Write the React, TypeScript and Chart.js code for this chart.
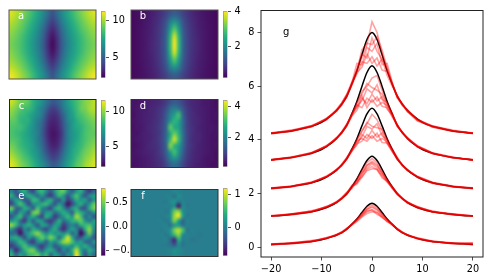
import React, { useEffect, useRef } from "react";
import { Chart, registerables } from "chart.js";

Chart.register(...registerables);

const viridis = ["#440154", "#482475", "#414487", "#355f8d", "#2a788e", "#21918c", "#22a884", "#44bf70", "#7ad151", "#bddf26", "#fde725"];
const FONT = { family: "'DejaVu Sans'", size: 9.7 };

const gridA = [
  [10.8,10.4,10.0,9.5,9.0,8.4,7.8,7.1,6.3,5.4,4.6,5.4,6.3,7.1,7.8,8.4,9.0,9.5,10.0,10.4,10.8],
  [10.3,10.0,9.6,9.1,8.6,8.0,7.4,6.7,5.8,4.7,4.0,4.7,5.8,6.7,7.4,8.0,8.6,9.1,9.6,10.0,10.3],
  [9.9,9.6,9.2,8.8,8.2,7.7,7.0,6.2,5.2,4.0,3.3,4.0,5.2,6.2,7.0,7.7,8.2,8.8,9.2,9.6,9.9],
  [9.6,9.3,8.9,8.4,7.9,7.3,6.7,5.9,4.8,3.5,2.8,3.5,4.8,5.9,6.7,7.3,7.9,8.4,8.9,9.3,9.6],
  [9.4,9.1,8.8,8.3,7.8,7.2,6.5,5.7,4.6,3.3,2.5,3.3,4.6,5.7,6.5,7.2,7.8,8.3,8.8,9.1,9.4],
  [9.6,9.3,8.9,8.4,7.9,7.3,6.7,5.9,4.8,3.5,2.8,3.5,4.8,5.9,6.7,7.3,7.9,8.4,8.9,9.3,9.6],
  [9.9,9.6,9.2,8.8,8.2,7.7,7.0,6.2,5.2,4.0,3.3,4.0,5.2,6.2,7.0,7.7,8.2,8.8,9.2,9.6,9.9],
  [10.4,10.1,9.7,9.2,8.7,8.1,7.4,6.7,5.8,4.7,4.0,4.7,5.8,6.7,7.4,8.1,8.7,9.2,9.7,10.1,10.4],
  [11.1,10.7,10.2,9.7,9.2,8.6,7.9,7.2,6.4,5.5,4.7,5.5,6.4,7.2,7.9,8.6,9.2,9.7,10.2,10.7,11.1],
];
const gridB = [
  [.3,.34,.38,.42,.48,.55,.65,.8,.95,1.2,1.3,1.2,.95,.8,.65,.55,.48,.42,.38,.34,.3],
  [.3,.34,.38,.44,.5,.6,.72,.9,1.2,1.8,2.1,1.8,1.2,.9,.72,.6,.5,.44,.38,.34,.3],
  [.3,.35,.4,.45,.52,.62,.76,.95,1.35,2.3,3.0,2.3,1.35,.95,.76,.62,.52,.45,.4,.35,.3],
  [.3,.35,.4,.46,.54,.64,.78,1.0,1.45,2.7,3.8,2.7,1.45,1.0,.78,.64,.54,.46,.4,.35,.3],
  [.3,.35,.4,.45,.55,.65,.8,1.0,1.5,2.8,4.0,2.8,1.5,1.0,.8,.65,.55,.45,.4,.35,.3],
  [.3,.35,.4,.46,.54,.64,.78,1.0,1.45,2.7,3.8,2.7,1.45,1.0,.78,.64,.54,.46,.4,.35,.3],
  [.3,.35,.4,.45,.52,.62,.76,.95,1.35,2.3,3.0,2.3,1.35,.95,.76,.62,.52,.45,.4,.35,.3],
  [.3,.34,.38,.44,.5,.6,.72,.9,1.2,1.8,2.1,1.8,1.2,.9,.72,.6,.5,.44,.38,.34,.3],
  [.3,.34,.38,.42,.48,.55,.65,.8,.95,1.2,1.3,1.2,.95,.8,.65,.55,.48,.42,.38,.34,.3],
];
const gridC = [
  [10.9,10.3,9.6,9.5,9.2,8.3,7.6,7.0,6.2,5.4,4.6,4.9,5.6,6.6,7.5,8.2,8.8,9.4,9.9,10.2,10.7],
  [10.2,9.7,9.2,8.7,8.6,8.1,7.2,6.4,5.6,4.4,3.7,4.1,5.1,6.3,7.0,8.0,8.7,9.5,9.7,10.4,10.6],
  [9.8,9.3,8.6,8.4,8.0,7.4,6.8,6.3,5.0,3.7,3.2,3.4,4.4,5.7,6.9,7.6,8.5,8.9,9.4,9.8,10.2],
  [9.3,9.1,8.4,8.1,8.1,7.2,6.4,5.7,4.5,3.3,2.9,3.1,3.9,5.4,6.6,7.3,8.1,8.6,9.0,9.4,9.7],
  [9.0,8.8,8.7,8.3,7.6,7.0,6.2,5.5,4.2,3.0,2.7,2.9,3.7,5.2,6.3,7.4,7.9,8.2,8.8,9.1,9.5],
  [8.9,8.6,8.3,7.9,7.5,6.9,6.4,5.4,4.0,2.9,2.5,2.7,3.4,5.1,6.5,7.1,7.6,8.3,8.9,9.2,9.3],
  [9.1,8.9,8.5,8.0,7.7,7.1,6.3,5.5,4.3,3.1,2.6,2.8,3.6,5.2,6.4,7.2,7.8,8.4,8.9,9.3,9.6],
  [9.6,9.2,8.6,8.2,7.9,7.4,6.6,5.8,4.6,3.5,2.9,3.0,4.0,5.5,6.7,7.5,8.1,8.5,9.2,9.6,10.0],
  [10.1,9.6,9.1,8.6,8.1,7.5,7.0,6.2,5.0,3.9,3.4,3.6,4.6,6.0,6.9,7.9,8.3,9.0,9.6,9.9,10.4],
  [10.7,10.2,9.6,9.0,8.6,8.0,7.3,6.5,5.7,4.7,3.9,4.2,5.3,6.4,7.3,8.0,8.8,9.3,9.9,10.3,10.8],
  [11.2,10.7,10.0,9.5,9.0,8.4,7.7,7.0,6.3,5.4,4.7,5.0,5.8,6.8,7.7,8.4,9.2,9.6,10.3,10.7,11.1],
];
const gridD = [
  [.3,.3,.35,.4,.45,.5,.55,.65,.85,1.15,1.3,1.2,.9,.7,.55,.5,.45,.35,.35,.3,.25],
  [.3,.35,.4,.4,.5,.55,.65,.8,1.1,1.7,1.9,1.7,1.2,.8,.6,.5,.45,.4,.35,.3,.25],
  [.25,.35,.4,.45,.5,.55,.7,.85,1.3,2.0,2.5,3.1,1.5,.85,.65,.55,.45,.4,.35,.3,.3],
  [.3,.35,.4,.45,.5,.6,.7,.9,1.4,2.3,2.9,2.6,1.6,.9,.65,.55,.5,.4,.35,.3,.25],
  [.25,.35,.35,.45,.55,.6,.75,.95,1.5,3.3,2.7,2.5,1.6,.9,.7,.55,.45,.4,.35,.35,.3],
  [.3,.3,.4,.45,.5,.6,.7,.95,1.5,2.7,3.4,2.8,1.7,.95,.7,.55,.5,.4,.35,.3,.3],
  [.3,.35,.4,.45,.5,.6,.75,1.0,1.6,3.0,4.1,3.0,1.7,.95,.65,.55,.5,.4,.35,.3,.25],
  [.25,.3,.35,.45,.55,.6,.7,.95,1.5,3.6,2.8,2.4,1.6,.9,.7,.55,.45,.4,.35,.3,.3],
  [.3,.35,.4,.45,.5,.55,.7,.9,1.4,2.4,3.1,2.3,1.4,.85,.65,.5,.45,.4,.35,.3,.25],
  [.3,.3,.35,.4,.45,.55,.65,.8,1.2,1.9,2.3,1.9,1.2,.8,.6,.5,.45,.35,.3,.3,.25],
  [.25,.3,.35,.4,.45,.5,.6,.7,.95,1.4,1.6,1.4,1.0,.7,.55,.45,.4,.35,.3,.25,.25],
];
const gridE = [
  [.0,-.25,.12,.26,-.14,-.32,.18,.32,.05,-.25,.12,.38,.45,.05,-.2,.12,.26,-.14,-.38,-.14],
  [.26,-.14,-.38,.05,.26,.12,-.14,.12,-.2,-.38,-.08,.32,.12,-.25,.12,.38,.05,-.25,.05,.18],
  [-.14,.18,.12,-.25,-.14,.32,.26,-.2,.12,.26,-.14,-.25,.12,-.38,-.14,.26,.12,.18,-.2,.12],
  [-.32,.05,.38,.12,-.32,.05,.12,.26,.32,.05,-.25,.12,-.14,-.55,-.32,.05,.26,-.08,.12,.45],
  [.45,-.14,-.14,.26,.12,-.2,.38,.05,-.14,-.32,.18,.32,.05,-.25,.12,.26,-.2,-.25,.26,.5],
  [.05,-.25,.18,.05,-.25,.45,.5,-.14,.12,.18,-.14,.05,.26,.12,-.2,.38,.26,.05,-.14,.12],
  [-.25,.12,.32,-.2,.05,.26,-.08,-.32,.26,.05,-.38,-.14,.12,.32,.12,.6,.38,-.14,.05,-.25],
  [.12,.26,-.14,-.38,.12,-.2,.18,.12,-.25,-.38,-.14,.26,-.14,.05,.26,.32,.45,.12,-.08,.18],
  [.55,.32,-.08,.12,.26,.05,-.25,.18,.12,-.2,.18,.12,-.38,-.14,.05,-.14,.26,.32,.38,.12],
  [.12,-.25,-.45,.05,-.14,.26,.12,-.14,-.32,.05,.26,-.14,-.45,-.08,.18,.0,-.38,.26,.55,.05],
  [-.14,-.14,-.55,-.08,.18,.38,.55,.32,.05,.26,.12,.18,.05,.26,-.14,.05,-.6,-.14,.45,-.08],
  [.18,.26,.05,-.25,.12,-.08,.26,.45,.26,.5,.32,-.14,.32,.7,.26,-.2,-.25,.12,.05,-.25],
  [-.14,.05,.32,.18,-.25,-.38,.05,.12,-.2,.18,.05,.26,.55,.6,.38,.05,.18,-.14,-.2,.12],
  [-.38,-.2,.12,.38,.18,.05,-.2,-.38,-.08,.12,-.25,-.08,.12,.18,.05,.32,.12,.26,.05,-.14],
  [.05,-.45,-.14,.26,.45,.5,.12,-.2,.18,.26,.05,-.32,.05,-.14,.26,.65,.18,-.08,.26,.05],
  [.26,-.14,.18,.05,.32,.38,.45,.18,.32,-.14,.18,.05,-.2,.12,.12,.78,.26,-.25,.12,-.14],
];
const gridF = [
  [.0,.0,.01,.0,.0,.01,.0,.01,.02,.0,.08,.05,.02,.0,.01,.0,.0,.01,.0,.0,.0],
  [.0,.01,.0,.0,.01,.0,.02,.0,.03,.05,-.1,.15,.03,.0,.02,.0,.01,.0,.0,.01,.0],
  [.01,.0,.0,.01,.0,.0,.0,.02,-.03,.1,.2,-.05,.05,.0,.0,.01,.0,.0,.01,.0,.0],
  [.0,.0,.01,.0,.0,.01,.02,.0,.03,.02,.1,-.7,.1,-.03,.02,.0,.0,.01,.0,.0,.01],
  [.0,.01,.0,.0,.01,.0,.0,.03,-.05,.1,.7,.8,.15,.03,.0,.0,.01,.0,.0,.01,.0],
  [.01,.0,.0,.01,.0,.02,.0,-.02,.05,.15,.9,1.15,.3,-.05,.02,.0,.0,.01,.0,.0,.0],
  [.0,.0,.01,.0,.0,.0,.03,.02,-.05,.1,.8,.3,-.2,.05,.0,.01,.0,.0,.01,.0,.01],
  [.0,.01,.0,.0,.01,.0,.0,.03,.05,-.1,.2,.25,-.1,.03,.0,.0,.01,.0,.0,.0,.0],
  [.01,.0,.0,.01,.0,.02,.0,-.02,.05,.2,.8,1.0,.6,-.05,.03,.0,.0,.01,.0,.01,.0],
  [.0,.0,.01,.0,.0,.0,.02,.03,-.05,.1,.5,.8,.1,.05,.0,.01,-.03,.0,.01,.0,.0],
  [.0,.01,.0,.0,.01,.0,.0,.02,.05,-.2,-.65,.4,.0,.03,-.03,-.04,.0,.0,.0,.01,.0],
  [.01,.0,.0,.01,.0,.01,.02,.0,-.03,-.1,-.35,.1,-.1,.02,.0,.0,.0,.01,.0,.0,.0],
  [.0,.0,.01,.0,.0,.0,.0,.02,.03,.05,.15,.1,.05,.0,.01,.0,.0,.0,.01,.0,.01],
  [.0,.01,.0,.0,.01,.0,.01,.0,.02,.04,.15,.1,.03,.01,.0,.0,.01,.0,.0,.0,.0],
];

const blackX = [-20,-18,-16,-14,-12,-10,-8,-7,-6,-5,-4,-3,-2,-1,0,1,2,3,4,5,6,7,8,10,12,14,16,18,20];
const blackA = [4.24,4.28,4.33,4.41,4.50,4.65,4.92,5.10,5.33,5.63,6.08,6.57,7.17,7.74,8.00,7.74,7.17,6.57,6.08,5.63,5.33,5.10,4.92,4.65,4.50,4.41,4.33,4.28,4.24];
const blackB = [3.25,3.29,3.34,3.41,3.50,3.64,3.88,4.06,4.27,4.55,4.97,5.43,5.99,6.51,6.76,6.51,5.99,5.43,4.97,4.55,4.27,4.06,3.88,3.64,3.50,3.41,3.34,3.29,3.25];
const blackC = [2.19,2.22,2.26,2.32,2.40,2.52,2.73,2.88,3.06,3.30,3.65,4.04,4.52,4.97,5.18,4.97,4.52,4.04,3.65,3.30,3.06,2.88,2.73,2.52,2.40,2.32,2.26,2.22,2.19];
const blackD = [1.16,1.18,1.22,1.26,1.32,1.41,1.56,1.67,1.81,1.99,2.25,2.54,2.90,3.23,3.39,3.23,2.90,2.54,2.25,1.99,1.81,1.67,1.56,1.41,1.32,1.26,1.22,1.18,1.16];
const blackE = [.10,.12,.14,.17,.21,.27,.38,.45,.54,.67,.85,1.05,1.29,1.52,1.63,1.52,1.29,1.05,.85,.67,.54,.45,.38,.27,.21,.17,.14,.12,.10];

const redX = [-20,-16,-12,-9,-7,-6,-5,-4,-3,-2,-1,0,1,2,3,4,5,6,7,9,12,16,20];
const redA = [
  [4.25,4.35,4.52,4.78,5.12,5.36,5.70,6.15,6.60,7.05,7.55,8.40,8.00,7.20,6.65,6.05,5.60,5.32,5.08,4.72,4.48,4.34,4.24],
  [4.22,4.32,4.49,4.80,5.08,5.30,5.60,6.05,6.62,7.20,7.05,7.80,7.30,7.00,6.60,6.10,5.65,5.30,5.12,4.75,4.52,4.32,4.25],
  [4.26,4.31,4.51,4.74,5.14,5.38,5.68,6.10,6.85,6.80,7.45,7.30,7.60,6.80,6.85,6.15,5.58,5.36,5.06,4.70,4.50,4.35,4.23],
  [4.23,4.34,4.48,4.79,5.07,5.33,5.58,6.12,6.45,6.90,6.85,7.10,6.75,7.00,6.40,6.00,5.66,5.34,5.10,4.78,4.47,4.31,4.26],
  [4.25,4.33,4.53,4.76,5.11,5.29,5.64,6.02,6.50,6.70,7.20,6.85,7.05,6.60,6.55,6.08,5.62,5.28,5.13,4.74,4.51,4.36,4.24],
  [4.24,4.36,4.50,4.81,5.09,5.35,5.66,6.08,6.58,7.35,7.60,7.55,7.85,7.35,6.70,6.12,5.55,5.31,5.05,4.76,4.49,4.33,4.25],
];
const redB = [
  [3.26,3.35,3.52,3.75,4.08,4.30,4.58,4.95,5.38,5.80,6.00,6.30,6.40,5.85,5.30,4.90,4.52,4.29,4.05,3.74,3.49,3.33,3.25],
  [3.23,3.33,3.49,3.78,4.04,4.25,4.52,4.92,5.25,5.45,5.90,5.75,6.05,5.50,5.40,4.98,4.56,4.26,4.08,3.77,3.52,3.35,3.24],
  [3.25,3.36,3.51,3.74,4.07,4.28,4.50,4.88,5.10,5.55,5.35,5.70,5.45,5.60,5.15,4.92,4.50,4.30,4.04,3.75,3.50,3.32,3.26],
  [3.24,3.32,3.48,3.77,4.05,4.26,4.56,4.90,5.30,5.20,5.55,5.40,5.60,5.25,5.20,4.86,4.57,4.24,4.07,3.73,3.48,3.34,3.25],
  [3.26,3.34,3.53,3.76,4.09,4.24,4.54,4.98,5.20,5.65,5.20,5.50,5.25,5.40,5.28,4.95,4.53,4.28,4.03,3.78,3.51,3.36,3.23],
  [3.25,3.35,3.50,3.79,4.03,4.29,4.59,4.93,5.35,5.70,6.10,5.95,5.85,5.70,5.35,5.00,4.49,4.27,4.09,3.76,3.49,3.33,3.26],
];
const redC = [
  [2.20,2.27,2.42,2.63,2.90,3.08,3.33,3.63,3.98,4.35,4.60,4.95,4.75,4.35,3.95,3.60,3.28,3.05,2.87,2.60,2.39,2.25,2.19],
  [2.17,2.25,2.39,2.65,2.86,3.05,3.28,3.60,3.90,4.10,4.50,4.40,4.60,4.15,4.00,3.66,3.33,3.07,2.90,2.63,2.41,2.27,2.20],
  [2.19,2.28,2.41,2.61,2.89,3.04,3.31,3.56,3.80,4.20,4.05,4.35,4.10,4.25,3.85,3.62,3.26,3.08,2.86,2.62,2.40,2.24,2.18],
  [2.18,2.24,2.38,2.64,2.87,3.07,3.26,3.62,3.85,3.95,4.20,4.05,4.25,3.90,3.88,3.55,3.30,3.04,2.89,2.59,2.38,2.26,2.21],
  [2.21,2.26,2.43,2.60,2.91,3.03,3.29,3.58,3.95,4.05,3.95,4.15,3.95,4.05,3.92,3.58,3.27,3.06,2.85,2.64,2.42,2.28,2.18],
  [2.19,2.27,2.40,2.62,2.85,3.09,3.34,3.64,4.00,4.30,4.65,4.50,4.45,4.40,4.02,3.64,3.35,3.03,2.88,2.61,2.37,2.25,2.20],
];
const redD = [
  [1.17,1.23,1.34,1.50,1.69,1.83,2.02,2.24,2.50,2.85,3.15,3.30,3.15,2.82,2.48,2.22,1.98,1.80,1.66,1.47,1.31,1.22,1.16],
  [1.15,1.21,1.31,1.52,1.65,1.80,1.97,2.22,2.42,2.70,3.05,3.20,3.08,2.75,2.50,2.26,2.01,1.82,1.68,1.49,1.33,1.23,1.17],
  [1.16,1.24,1.33,1.47,1.68,1.79,2.00,2.30,2.38,2.75,2.95,3.10,2.95,2.70,2.45,2.20,1.96,1.83,1.65,1.50,1.32,1.21,1.15],
  [1.18,1.20,1.30,1.51,1.66,1.84,2.04,2.18,2.45,2.62,2.90,3.00,2.88,2.65,2.42,2.24,2.00,1.79,1.69,1.46,1.30,1.24,1.16],
  [1.16,1.22,1.35,1.48,1.70,1.82,1.95,2.26,2.35,2.60,2.85,2.92,2.90,2.58,2.46,2.18,1.97,1.81,1.64,1.48,1.34,1.20,1.17],
  [1.15,1.23,1.32,1.49,1.67,1.85,2.03,2.28,2.52,2.80,3.05,3.15,3.02,2.78,2.52,2.25,2.02,1.84,1.67,1.51,1.31,1.22,1.15],
];
const redE = [
  [.11,.15,.23,.34,.47,.56,.69,.84,1.02,1.26,1.48,1.58,1.47,1.24,1.01,.83,.66,.53,.44,.32,.20,.14,.11],
  [.09,.13,.20,.36,.44,.53,.66,.86,1.00,1.20,1.40,1.48,1.38,1.18,1.04,.87,.68,.55,.46,.33,.22,.15,.12],
  [.10,.16,.22,.32,.46,.52,.68,.83,.98,1.15,1.32,1.40,1.30,1.15,.96,.85,.65,.56,.43,.34,.21,.13,.09],
  [.12,.14,.19,.35,.43,.55,.70,.82,.95,1.12,1.25,1.32,1.28,1.10,.98,.82,.69,.52,.47,.31,.19,.16,.15],
  [.08,.15,.24,.31,.48,.54,.65,.87,1.03,1.18,1.35,1.38,1.22,1.12,.94,.86,.67,.54,.45,.35,.23,.12,.16],
  [.10,.12,.21,.34,.45,.57,.71,.85,1.04,1.23,1.42,1.52,1.42,1.22,1.03,.84,.70,.57,.44,.30,.20,.15,.10],
];

const lineXTicks = [-20, -10, 0, 10, 20];
const lineYTicks = [0, 2, 4, 6, 8];

const panels = [
  { name: "a", grid: gridA, vmin: 2.3, vmax: 11.3, ticks: [5, 10], dec: 0, L: 9, T: 10, W: 87, H: 69, cL: 101, cT: 10, cH: 69, frame: "#555" },
  { name: "b", grid: gridB, vmin: 0.2, vmax: 4.03, ticks: [2, 4], dec: 0, L: 131, T: 10, W: 87, H: 69, cL: 223, cT: 10, cH: 69, frame: "#555" },
  { name: "c", grid: gridC, vmin: 2.0, vmax: 11.7, ticks: [5, 10], dec: 0, L: 9.5, T: 99.5, W: 86.5, H: 68, cL: 101, cT: 99, cH: 69, frame: "#222" },
  { name: "d", grid: gridD, vmin: 0.06, vmax: 4.42, ticks: [2, 4], dec: 0, L: 131, T: 99.5, W: 87, H: 68, cL: 223, cT: 99, cH: 69, frame: "#333" },
  { name: "e", grid: gridE, vmin: -0.615, vmax: 0.79, ticks: [-0.5, 0, 0.5], dec: 1, L: 9.5, T: 189.5, W: 86.5, H: 67, cL: 101, cT: 187.5, cH: 69.5, frame: "#222" },
  { name: "f", grid: gridF, vmin: -0.87, vmax: 1.2, ticks: [0, 1], dec: 0, L: 131, T: 189.5, W: 87, H: 67, cL: 223, cT: 187.5, cH: 69.5, frame: "#333" },
];

const hex = (h: string) => [1, 3, 5].map((i) => parseInt(h.slice(i, i + 2), 16));
const cmap = (t: number) => {
  const c = Math.min(1, Math.max(0, t)) * (viridis.length - 1);
  const i = Math.min(viridis.length - 2, Math.floor(c));
  const a = hex(viridis[i]);
  const b = hex(viridis[i + 1]);
  return a.map((v, k) => v + (b[k] - v) * (c - i));
};
const minus = (s: string) => s.replace("-", "\u2212");

function makeHeat(canvas: HTMLCanvasElement, p: any, pad: any) {
  const rows = p.grid.length;
  const cols = p.grid[0].length;
  const cells: any[] = [];
  p.grid.forEach((row: number[], r: number) => row.forEach((v, c) => cells.push({ x: c, y: r, v })));
  return new Chart(canvas, {
    type: "scatter",
    data: { datasets: [{ data: cells, pointRadius: 0 }] },
    options: {
      animation: false,
      responsive: false,
      devicePixelRatio: 1,
      layout: { padding: pad },
      plugins: { legend: { display: false }, tooltip: { enabled: false } },
      scales: {
        x: { type: "linear", display: false, min: 0, max: cols },
        y: { type: "linear", display: false, min: 0, max: rows, reverse: true },
      },
    },
    plugins: [
      {
        id: "heat",
        beforeDatasetsDraw(chart: any) {
          const off = document.createElement("canvas");
          off.width = cols;
          off.height = rows;
          const oc = off.getContext("2d")!;
          const img = oc.createImageData(cols, rows);
          chart.data.datasets[0].data.forEach((d: any) => {
            const rgb = cmap((d.v - p.vmin) / (p.vmax - p.vmin));
            const k = (d.y * cols + d.x) * 4;
            img.data[k] = rgb[0];
            img.data[k + 1] = rgb[1];
            img.data[k + 2] = rgb[2];
            img.data[k + 3] = 255;
          });
          oc.putImageData(img, 0, 0);
          const { x, y } = chart.scales;
          const c = chart.ctx;
          const x0 = x.getPixelForValue(0);
          const y0 = y.getPixelForValue(0);
          const x1 = x.getPixelForValue(cols);
          const y1 = y.getPixelForValue(rows);
          c.save();
          c.imageSmoothingEnabled = true;
          c.imageSmoothingQuality = "high";
          c.drawImage(off, x0, y0, x1 - x0, y1 - y0);
          c.strokeStyle = p.frame;
          c.lineWidth = 1;
          c.strokeRect(x0, y0, x1 - x0, y1 - y0);
          c.fillStyle = "#fff";
          c.font = "10px 'DejaVu Sans'";
          c.textAlign = "center";
          c.textBaseline = "middle";
          c.fillText(p.name, x.getPixelForValue(cols * 0.138), y.getPixelForValue(rows * 0.1));
          c.restore();
        },
      },
    ],
  } as any);
}

function makeBar(canvas: HTMLCanvasElement, p: any, pad: any, axisW: number) {
  return new Chart(canvas, {
    type: "bar",
    data: {
      labels: [""],
      datasets: [
        {
          data: [[p.vmin, p.vmax]],
          barPercentage: 1,
          categoryPercentage: 1,
          borderWidth: 0.8,
          borderColor: "#777",
          borderSkipped: false,
          backgroundColor: (ctx: any) => {
            const a = ctx.chart.chartArea;
            if (!a) return viridis[5];
            const g = ctx.chart.ctx.createLinearGradient(0, a.bottom, 0, a.top);
            viridis.forEach((col, i) => g.addColorStop(i / (viridis.length - 1), col));
            return g;
          },
        },
      ],
    },
    options: {
      animation: false,
      responsive: false,
      devicePixelRatio: 1,
      layout: { padding: pad },
      plugins: { legend: { display: false }, tooltip: { enabled: false } },
      scales: {
        x: { display: false },
        y: {
          position: "right",
          min: p.vmin,
          max: p.vmax,
          afterFit(s: any) { s.width = axisW; },
          afterBuildTicks(s: any) { s.ticks = p.ticks.map((v: number) => ({ value: v })); },
          border: { display: false },
          grid: { drawOnChartArea: false, tickLength: 3.5, tickColor: "#222", lineWidth: 0.8 },
          ticks: {
            autoSkip: false,
            minRotation: 0,
            maxRotation: 0,
            padding: 3.5,
            color: "#000",
            font: FONT,
            callback: (v: number) => minus(v.toFixed(p.dec)),
          },
        },
      },
    },
  } as any);
}

function makeLine(canvas: HTMLCanvasElement, pad: any, yW: number, xH: number) {
  const blacks = [blackA, blackB, blackC, blackD, blackE].map((ys) => ({
    data: ys.map((y, i) => ({ x: blackX[i], y })),
    borderColor: "#000",
    borderWidth: 1.5,
    pointRadius: 0,
    cubicInterpolationMode: "monotone",
    order: 2,
    showLine: true,
  }));
  const reds = [redA, redB, redC, redD, redE].flatMap((group) =>
    group.map((ys) => ({
      data: ys.map((y, i) => ({ x: redX[i], y })),
      borderColor: "rgba(255,0,0,0.36)",
      borderWidth: 1.6,
      pointRadius: 0,
      order: 1,
      showLine: true,
    }))
  );
  const tickCommon = { color: "#000", font: FONT, autoSkip: false, minRotation: 0, maxRotation: 0, padding: 3 };
  const gridCommon = { display: true, drawOnChartArea: false, tickLength: 3.5, tickColor: "#222", lineWidth: 0.8 };
  return new Chart(canvas, {
    type: "scatter",
    data: { datasets: [...blacks, ...reds] },
    options: {
      animation: false,
      responsive: false,
      devicePixelRatio: 1,
      layout: { padding: pad },
      plugins: { legend: { display: false }, tooltip: { enabled: false } },
      scales: {
        x: {
          type: "linear",
          min: -22,
          max: 22,
          afterFit(s: any) { s.height = xH; },
          afterBuildTicks(s: any) { s.ticks = lineXTicks.map((v) => ({ value: v })); },
          border: { display: false },
          grid: gridCommon,
          ticks: { ...tickCommon, callback: (v: number) => minus(String(v)) },
        },
        y: {
          type: "linear",
          min: -0.37,
          max: 8.84,
          afterFit(s: any) { s.width = yW; },
          afterBuildTicks(s: any) { s.ticks = lineYTicks.map((v) => ({ value: v })); },
          border: { display: false },
          grid: gridCommon,
          ticks: { ...tickCommon, callback: (v: number) => String(v) },
        },
      },
    },
    plugins: [
      {
        id: "frame",
        afterDatasetsDraw(chart: any) {
          const a = chart.chartArea;
          const c = chart.ctx;
          c.save();
          c.strokeStyle = "#222";
          c.lineWidth = 1;
          c.strokeRect(a.left, a.top + 0.5, a.right - a.left, a.bottom - a.top - 0.5);
          c.fillStyle = "#000";
          c.font = "10px 'DejaVu Sans'";
          c.textAlign = "center";
          c.textBaseline = "middle";
          c.fillText("g", chart.scales.x.getPixelForValue(-17), chart.scales.y.getPixelForValue(8));
          c.restore();
        },
      },
    ],
  } as any);
}

type Spec = { left: number; top: number; width: number; height: number; make: (c: HTMLCanvasElement) => Chart };

const specs: Spec[] = [];
panels.forEach((p) => {
  const hl = Math.floor(p.L) - 2;
  const ht = Math.floor(p.T) - 2;
  const hw = Math.ceil(p.W) + 5;
  const hh = Math.ceil(p.H) + 5;
  specs.push({
    left: hl, top: ht, width: hw, height: hh,
    make: (c) => makeHeat(c, p, { left: p.L - hl, top: p.T - ht, right: hw - (p.L - hl) - p.W, bottom: hh - (p.T - ht) - p.H }),
  });
  const barW = 4.5;
  const bl = p.cL - 1;
  const bt = Math.floor(p.cT) - 8;
  const bw = p.name === "e" ? 129 - bl + 1 : 30;
  const bh = Math.ceil(p.cH) + 16;
  specs.push({
    left: bl, top: bt, width: bw, height: bh,
    make: (c) => makeBar(c, p, { left: 1, top: p.cT - bt, right: 0, bottom: bh - (p.cT - bt) - p.cH }, bw - 1 - barW),
  });
});
specs.push({
  left: 236, top: 0, width: 254, height: 280,
  make: (c) => makeLine(c, { left: 0, top: 10, right: 7, bottom: 0 }, 25, 23),
});

export default function App() {
  const refs = useRef<(HTMLCanvasElement | null)[]>([]);
  useEffect(() => {
    const charts = specs.map((s, i) => s.make(refs.current[i]!));
    return () => charts.forEach((c) => c.destroy());
  }, []);
  return (
    <div style={{ position: "fixed", left: 0, top: 0, width: 490, height: 280, background: "#fff", overflow: "hidden" }}>
      {specs.map((s, i) => (
        <canvas
          key={i}
          ref={(el) => { refs.current[i] = el; }}
          width={s.width}
          height={s.height}
          style={{ position: "absolute", left: s.left, top: s.top, width: s.width, height: s.height, display: "block" }}
        />
      ))}
    </div>
  );
}
